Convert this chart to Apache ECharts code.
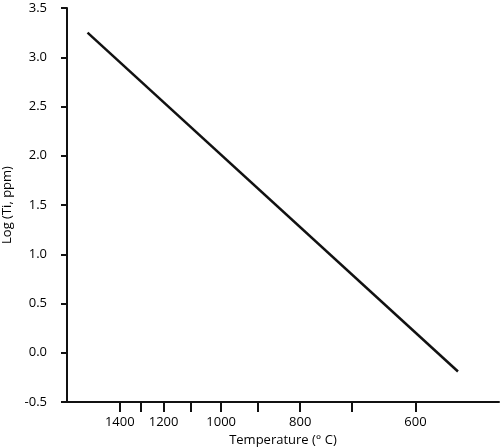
<!DOCTYPE html>
<html>
<head>
<meta charset="utf-8">
<script src="https://cdn.jsdelivr.net/npm/echarts@6/dist/echarts.min.js"></script>
<style>
html,body{margin:0;padding:0;background:#fff;}
#c{width:500px;height:447px;}
</style>
</head>
<body>
<div id="c"></div>
<script>
// Temperatures (°C) for x-axis ticks; axis is linear in 10^4 / T(K)
const tickTempsC = [1400, 1300, 1200, 1100, 1000, 900, 800, 700, 600];
const labelTempsC = [1400, 1200, 1000, 800, 600];
// Line endpoints: x in 10^4/K, y = log(Ti, ppm)
const lineInvT = [5.38, 12.24];
const lineLogTi = [3.25, -0.19];

const toInv = c => 1e4 / (c + 273.15);
const FONT = 'Open Sans';

const chart = echarts.init(document.getElementById('c'));
chart.setOption({
  animation: false,
  backgroundColor: '#fff',
  grid: { left: 67, right: 1, top: 8, bottom: 45, outerBoundsMode: 'none' },
  xAxis: {
    type: 'value',
    min: 5, max: 13,
    name: 'Temperature (° C)',
    nameLocation: 'middle',
    nameGap: 32,
    nameTextStyle: { fontFamily: FONT, fontSize: 13, color: '#000' },
    axisLine: { show: true, onZero: false, lineStyle: { color: '#111', width: 2 } },
    axisTick: { show: true, length: 10, lineStyle: { color: '#111', width: 2 }, customValues: tickTempsC.map(toInv) },
    axisLabel: { fontFamily: FONT, fontSize: 13, color: '#000', margin: 14, customValues: labelTempsC.map(toInv),
      formatter: v => String(Math.round(1e4 / v - 273.15)) },
    splitLine: { show: false }
  },
  yAxis: {
    type: 'value',
    min: -0.5, max: 3.5, interval: 0.5,
    name: 'Log (Ti, ppm)',
    nameLocation: 'middle',
    nameGap: 50,
    nameTextStyle: { fontFamily: FONT, fontSize: 13, color: '#000' },
    axisLine: { show: true, onZero: false, lineStyle: { color: '#111', width: 2 } },
    axisTick: { show: true, length: 6, lineStyle: { color: '#111', width: 2 } },
    axisLabel: { fontFamily: FONT, fontSize: 13, color: '#000', margin: 20, formatter: v => v.toFixed(1) },
    splitLine: { show: false }
  },
  series: [{
    type: 'line',
    data: lineInvT.map((x, i) => [x, lineLogTi[i]]),
    symbol: 'none',
    lineStyle: { color: '#111', width: 2.5 }
  }]
});
</script>
</body>
</html>
